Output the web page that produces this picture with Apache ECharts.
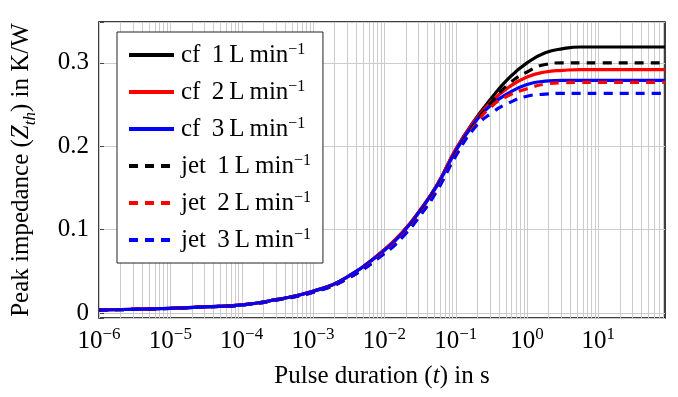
<!DOCTYPE html>
<html>
<head>
<meta charset="utf-8">
<script src="https://cdn.jsdelivr.net/npm/echarts@6/dist/echarts.min.js"></script>
</head>
<body style="margin:0">
<div id="container" style="width:678px;height:397px"></div>
<script>
// pulse duration in s
var pulse = [1e-6, 3e-6, 1e-5, 3e-5, 1e-4, 3e-4, 1e-3, 3e-3, 0.01, 0.018, 0.032, 0.056, 0.1, 0.18, 0.32, 0.56, 1, 1.8, 3.2, 5.6, 10, 86];
// peak impedance in K/W
var cf1  = [0.0036, 0.0045, 0.0057, 0.0073, 0.0097, 0.016, 0.026, 0.043, 0.076, 0.097, 0.124, 0.155, 0.196, 0.230, 0.258, 0.282, 0.300, 0.312, 0.317, 0.319, 0.319, 0.319];
var cf2  = [0.0036, 0.0045, 0.0057, 0.0073, 0.0097, 0.016, 0.026, 0.043, 0.076, 0.097, 0.124, 0.155, 0.196, 0.229, 0.254, 0.271, 0.283, 0.289, 0.291, 0.292, 0.292, 0.292];
var cf3  = [0.0036, 0.0045, 0.0057, 0.0073, 0.0097, 0.016, 0.026, 0.043, 0.075, 0.096, 0.123, 0.154, 0.194, 0.227, 0.250, 0.264, 0.274, 0.278, 0.279, 0.279, 0.279, 0.279];
var jet1 = [0.0035, 0.0044, 0.0056, 0.0072, 0.0095, 0.0155, 0.025, 0.041, 0.072, 0.092, 0.119, 0.150, 0.190, 0.225, 0.253, 0.275, 0.289, 0.298, 0.300, 0.300, 0.300, 0.300];
var jet2 = [0.0035, 0.0044, 0.0056, 0.0072, 0.0095, 0.0155, 0.025, 0.041, 0.072, 0.092, 0.118, 0.149, 0.189, 0.223, 0.248, 0.261, 0.269, 0.2745, 0.2762, 0.2765, 0.2765, 0.2765];
var jet3 = [0.0035, 0.0044, 0.0056, 0.0072, 0.0095, 0.0155, 0.025, 0.041, 0.071, 0.091, 0.117, 0.148, 0.188, 0.221, 0.240, 0.252, 0.260, 0.2625, 0.2635, 0.2635, 0.2635, 0.2635];

var seriesNames = ['cf 1', 'cf 2', 'cf 3', 'jet 1', 'jet 2', 'jet 3'];
var seriesData = [cf1, cf2, cf3, jet1, jet2, jet3];
var colors = ['#000000', '#ff0000', '#0000ff', '#000000', '#ff0000', '#0000ff'];
var dashed = [false, false, false, true, true, true];

var xMin = 1e-6, xMax = 86;
var yMin = -0.006, yMax = 0.349;
var FONT = 'Liberation Serif';

// vertical grid lines at 1..9 x 10^d
var gridX = [];
for (var d = -6; d <= 1; d++) {
    for (var k = 1; k <= 9; k++) {
        var v = k * Math.pow(10, d);
        if (v >= xMin && v <= xMax) gridX.push([v, 0]);
    }
}

function pairs(ys) {
    var out = [];
    for (var i = 0; i < pulse.length; i++) out.push([pulse[i], ys[i]]);
    return out;
}

var series = [{
    name: 'grid',
    type: 'custom',
    silent: true,
    z: 1,
    data: gridX,
    renderItem: function (params, api) {
        var cs = params.coordSys;
        var x = Math.round(api.coord([api.value(0), 0])[0]) + 0.5;
        return {
            type: 'line',
            shape: {x1: x, y1: cs.y, x2: x, y2: cs.y + cs.height},
            style: {stroke: '#cccccc', lineWidth: 1}
        };
    }
}];
for (var i = 0; i < seriesNames.length; i++) {
    series.push({
        name: seriesNames[i],
        type: 'line',
        data: pairs(seriesData[i]),
        smooth: 0.5,
        symbol: 'none',
        z: 3,
        color: colors[i],
        lineStyle: {color: colors[i], width: 3.2, type: dashed[i] ? [9, 7] : 'solid'}
    });
}

var dom = document.getElementById('container');
var myChart = echarts.init(dom);
var option = {
    animation: false,
    grid: {
        left: 99, right: 13, top: 22, bottom: 79,
        show: true, borderColor: '#000', borderWidth: 1.5
    },
    legend: {
        data: seriesNames,
        orient: 'vertical',
        left: 117, top: 32,
        padding: [10, 12, 10, 10],
        itemGap: 11,
        itemWidth: 45,
        itemHeight: 14,
        backgroundColor: '#fff',
        borderColor: '#222',
        borderWidth: 1,
        selectedMode: false,
        itemStyle: {opacity: 0},
        lineStyle: {width: 4},
        formatter: function (name) {
            var p = name.split(' ');
            return '{n|' + p[0] + ' \u2009' + p[1] + '\u2009L\u2009min}{s|\u22121}';
        },
        textStyle: {
            padding: [0, 0, 0, 2],
            rich: {
                n: {fontFamily: FONT, fontSize: 25, color: '#000', lineHeight: 26, verticalAlign: 'bottom'},
                s: {fontFamily: FONT, fontSize: 16, color: '#000', lineHeight: 26, verticalAlign: 'top'}
            }
        }
    },
    xAxis: {
        type: 'log',
        logBase: 10,
        min: xMin,
        max: xMax,
        interval: 1,
        name: '{r|Pulse duration (}{i|t}{r|) in s}',
        nameLocation: 'middle',
        nameGap: 46,
        nameTextStyle: {
            rich: {
                r: {fontFamily: FONT, fontSize: 25, color: '#000'},
                i: {fontFamily: FONT, fontSize: 25, color: '#000', fontStyle: 'italic'}
            }
        },
        axisLine: {show: false},
        axisTick: {show: false},
        splitLine: {show: false},
        axisLabel: {
            margin: 8,
            formatter: function (v) {
                var e = Math.log10(v);
                var r = Math.round(e);
                if (Math.abs(e - r) > 1e-6) return '';
                return '{b|10}{s|' + (r < 0 ? '\u2212' + (-r) : r) + '}';
            },
            rich: {
                b: {fontFamily: FONT, fontSize: 25, color: '#000', lineHeight: 28, verticalAlign: 'bottom'},
                s: {fontFamily: FONT, fontSize: 17, color: '#000', lineHeight: 28, verticalAlign: 'top'}
            }
        }
    },
    yAxis: [{
        type: 'value',
        min: yMin,
        max: yMax,
        name: '{r|Peak impedance (}{i|Z}{sub|th}{r|) in K/W}',
        nameLocation: 'middle',
        nameRotate: 90,
        nameGap: 60,
        nameTextStyle: {
            rich: {
                r: {fontFamily: FONT, fontSize: 25, color: '#000', lineHeight: 30, verticalAlign: 'top'},
                i: {fontFamily: FONT, fontSize: 25, color: '#000', fontStyle: 'italic', lineHeight: 30, verticalAlign: 'top'},
                sub: {fontFamily: FONT, fontSize: 17, color: '#000', fontStyle: 'italic', lineHeight: 30, verticalAlign: 'bottom'}
            }
        },
        axisLine: {show: false},
        axisTick: {show: true, inside: true, length: 5, lineStyle: {color: '#444'}},
        splitLine: {lineStyle: {color: '#cccccc', width: 1}},
        axisLabel: {
            margin: 10,
            fontFamily: FONT,
            fontSize: 25,
            color: '#000',
            formatter: function (v) {
                if (Math.abs(v * 10 - Math.round(v * 10)) > 1e-6) return '';
                return v === 0 ? '0' : v.toFixed(1);
            }
        }
    }],
    series: series
};
myChart.setOption(option);
</script>
</body>
</html>
